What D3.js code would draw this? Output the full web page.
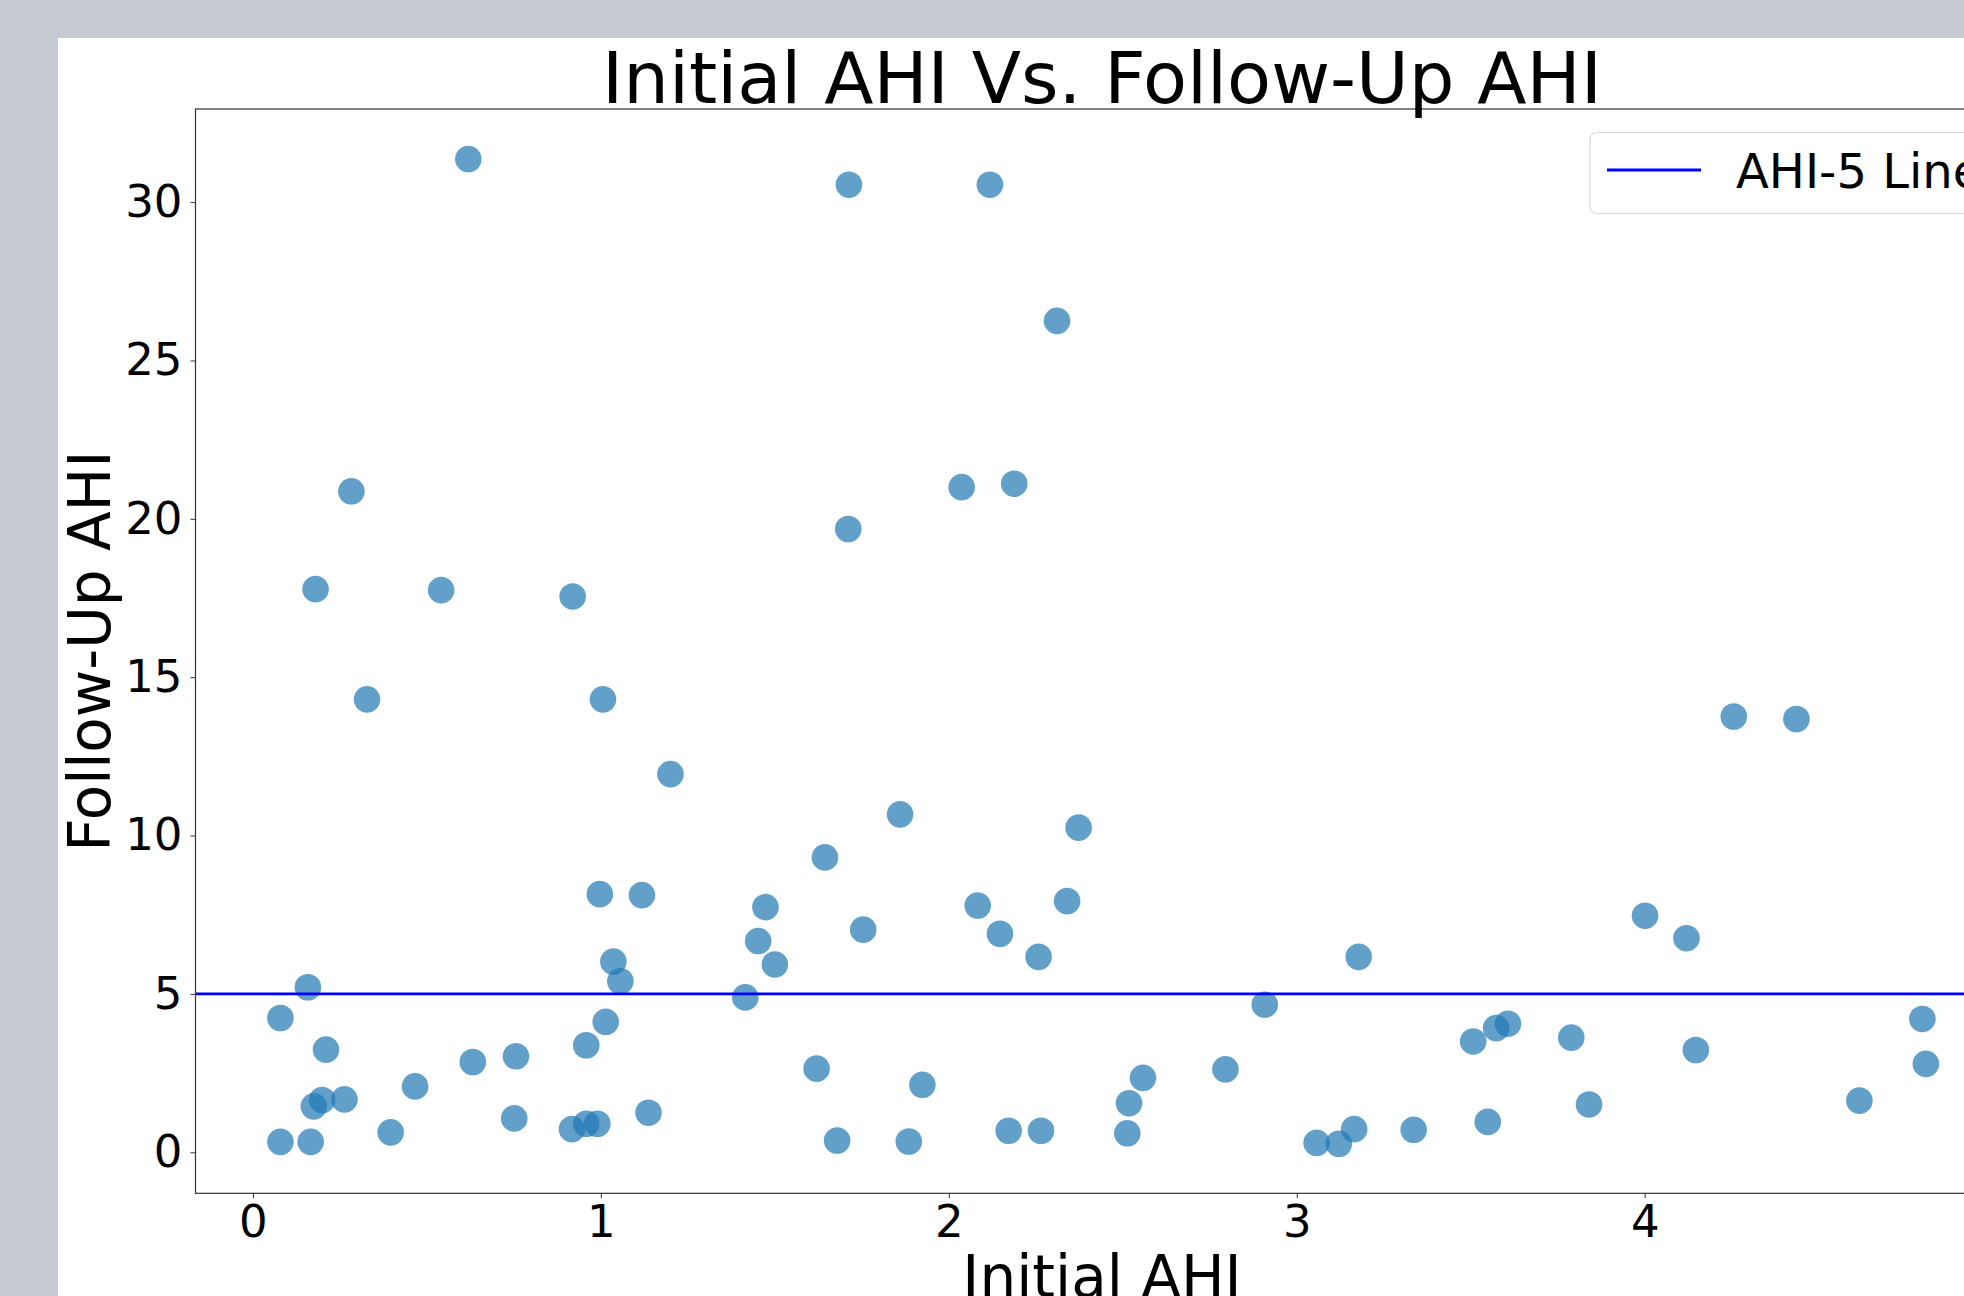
<!DOCTYPE html>
<html>
<head>
<meta charset="utf-8">
<script src="https://cdn.jsdelivr.net/npm/d3@7"></script>
<style>
  body { margin: 0; background: #c6cbd3; overflow: hidden; }
  svg { display: block; }
  text { font-family: "DejaVu Sans", sans-serif; fill: #000; }
</style>
</head>
<body>
<div id="chart"></div>
<script>
// values
var initialAHI = [0.079, 0.166, 0.079, 0.158, 0.180, 0.283, 0.328, 0.210, 0.175, 0.199,
    0.263, 0.396, 0.466, 0.541, 0.619, 0.632, 0.751, 0.756, 0.919, 0.917,
    0.958, 0.990, 0.958, 1.014, 0.997, 1.006, 1.036, 1.056, 1.118, 1.137,
    1.200, 1.415, 1.452, 1.473, 1.500, 1.620, 1.644, 1.679, 1.713, 1.711,
    1.754, 1.860, 1.885, 1.924, 2.037, 2.083, 2.118, 2.147, 2.172, 2.188,
    2.258, 2.265, 2.311, 2.340, 2.373, 2.513, 2.518, 2.558, 2.795, 2.908,
    3.057, 3.121, 3.165, 3.178, 3.336, 3.507, 3.549, 3.573, 3.607, 3.789,
    3.840, 4.001, 4.120, 4.147, 4.256, 4.436, 4.617, 4.798, 4.808];
var followUpAHI = [0.33, 0.33, 4.24, 5.21, 17.78, 20.87, 14.30, 3.24, 1.45, 1.65,
    1.67, 0.63, 2.08, 17.75, 31.36, 2.85, 1.07, 3.03, 17.55, 0.73,
    0.90, 0.90, 3.38, 4.12, 8.15, 14.30, 6.02, 5.40, 8.12, 1.25,
    11.94, 4.89, 6.67, 7.74, 5.93, 2.64, 9.31, 0.37, 30.55, 19.68,
    7.03, 10.67, 0.34, 2.13, 21.00, 7.79, 30.55, 6.90, 0.68, 21.11,
    6.17, 0.68, 26.25, 7.93, 10.25, 0.60, 1.55, 2.35, 2.62, 4.66,
    0.30, 0.27, 0.73, 6.17, 0.71, 3.50, 0.96, 3.92, 4.06, 3.62,
    1.51, 7.47, 6.76, 3.23, 13.76, 13.68, 1.63, 4.21, 2.79];
var xTicks = [0, 1, 2, 3, 4];
var yTicks = [0, 5, 10, 15, 20, 25, 30];
var ahiLimit = 5;
var legendLabel = "AHI-5 Line";

var data = initialAHI.map(function(d, i) {
    return {x: d, y: followUpAHI[i]};
});

var W = 1964, H = 1296;
var plot = {left: 195.5, top: 109, right: 2009, bottom: 1193.3};

var svg = d3.select("#chart").append("svg")
    .attr("width", W)
    .attr("height", H);

// white figure panel, cut off by the window on the right and bottom
svg.append("rect")
    .attr("x", 58).attr("y", 38)
    .attr("width", W).attr("height", H)
    .attr("fill", "#fff");

var x = d3.scaleLinear().domain([-0.165, 5.047]).range([plot.left, plot.right]);
var y = d3.scaleLinear().domain([-1.295, 32.94]).range([plot.bottom, plot.top]);

// dots
svg.append("g")
    .selectAll("circle")
    .data(data)
    .enter()
    .append("circle")
    .attr("cx", d => x(d.x))
    .attr("cy", d => y(d.y))
    .attr("r", 13.3)
    .style("fill", "#1f77b4")
    .style("opacity", 0.7);

// AHI-5 line
svg.append("line")
    .attr("x1", plot.left).attr("x2", plot.right)
    .attr("y1", y(ahiLimit)).attr("y2", y(ahiLimit))
    .attr("stroke", "#0000ff")
    .attr("stroke-width", 2.8);

// spines
svg.append("rect")
    .attr("x", plot.left).attr("y", plot.top)
    .attr("width", plot.right - plot.left)
    .attr("height", plot.bottom - plot.top)
    .attr("fill", "none")
    .attr("stroke", "#333")
    .attr("stroke-width", 1.2);

// X axis
var xAxis = svg.append("g")
    .attr("transform", "translate(0," + plot.bottom + ")")
    .call(d3.axisBottom(x).tickValues(xTicks).tickSize(5).tickPadding(7).tickFormat(d3.format("d")));
xAxis.select(".domain").remove();
xAxis.selectAll("text").style("font-size", "45px");
xAxis.selectAll("line").attr("stroke", "#333");

// Y axis
var yAxis = svg.append("g")
    .attr("transform", "translate(" + plot.left + ",0)")
    .call(d3.axisLeft(y).tickValues(yTicks).tickSize(5).tickPadding(8).tickFormat(d3.format("d")));
yAxis.select(".domain").remove();
yAxis.selectAll("text").style("font-size", "45px");
yAxis.selectAll("line").attr("stroke", "#333");

svg.append("text")
    .attr("x", 1102)
    .attr("y", 102.5)
    .style("text-anchor", "middle")
    .style("font-size", "72px")
    .text("Initial AHI Vs. Follow-Up AHI");

svg.append("text")
    .attr("x", 1102)
    .attr("y", 1297)
    .style("text-anchor", "middle")
    .style("font-size", "58px")
    .text("Initial AHI");

svg.append("text")
    .attr("transform", "translate(110," + ((plot.top + plot.bottom) / 2) + ") rotate(-90)")
    .style("text-anchor", "middle")
    .style("font-size", "58px")
    .text("Follow-Up AHI");

// legend
var legend = svg.append("g");
legend.append("rect")
    .attr("x", 1590).attr("y", 132.5)
    .attr("width", 410).attr("height", 81)
    .attr("rx", 7)
    .attr("fill", "#fff")
    .attr("fill-opacity", 0.8)
    .attr("stroke", "#d9d9d9")
    .attr("stroke-width", 1.2);
legend.append("line")
    .attr("x1", 1607).attr("x2", 1701)
    .attr("y1", 170).attr("y2", 170)
    .attr("stroke", "#0000ff")
    .attr("stroke-width", 2.8);
legend.append("text")
    .attr("x", 1736)
    .attr("y", 188)
    .style("font-size", "48px")
    .text(legendLabel);
</script>
</body>
</html>
